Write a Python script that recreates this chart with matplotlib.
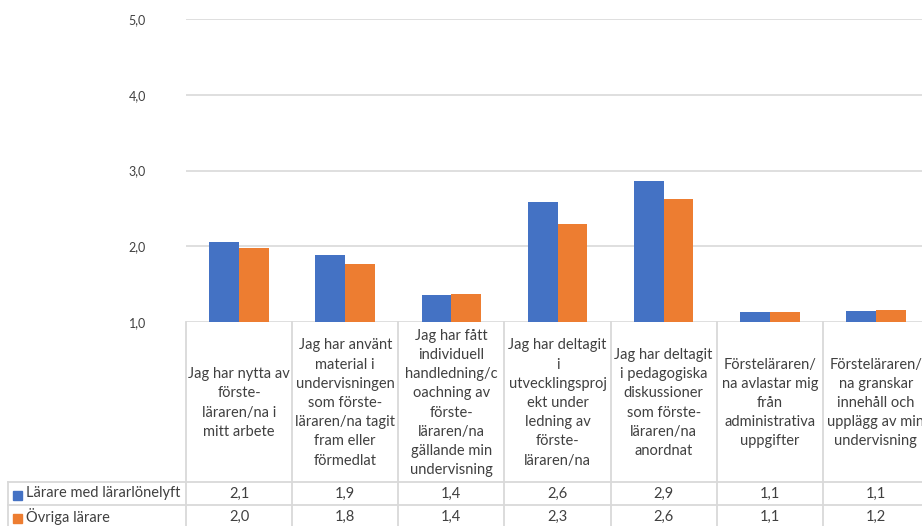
import numpy as np
import matplotlib.pyplot as plt
from matplotlib.ticker import FuncFormatter

plt.rcParams['font.family'] = ['Lato', 'DejaVu Sans']

# Survey statements (column headers of the data table)
categories = [
    "Jag har nytta av\nförste-\nläraren/na i\nmitt arbete",
    "Jag har använt\nmaterial i\nundervisningen\nsom förste-\nläraren/na tagit\nfram eller\nförmedlat",
    "Jag har fått\nindividuell\nhandledning/c\noachning av\nförste-\nläraren/na\ngällande min\nundervisning",
    "Jag har deltagit\ni\nutvecklingsproj\nekt under\nledning av\nförste-\nläraren/na",
    "Jag har deltagit\ni pedagogiska\ndiskussioner\nsom förste-\nläraren/na\nanordnat",
    "Försteläraren/\nna avlastar mig\nfrån\nadministrativa\nuppgifter",
    "Försteläraren/\nna granskar\ninnehåll och\nupplägg av min\nundervisning",
]
series_names = ["Lärare med lärarlönelyft", "Övriga lärare"]
lararlonelyft = [2.06, 1.88, 1.36, 2.58, 2.86, 1.13, 1.14]
ovriga = [1.98, 1.76, 1.37, 2.29, 2.62, 1.13, 1.16]
y_ticks = [1, 2, 3, 4, 5]

BLUE = "#4472C4"
ORANGE = "#ED7D31"
GRID = "#d9d9d9"
TEXT = "#404040"
FS = 10.5

W, H = 922, 526
fig = plt.figure(figsize=(W / 100, H / 100), dpi=100)

# plot area in pixel terms (runs off the right edge like the original sheet)
left, right, top, base = 186, 929, 19, 322
ax = fig.add_axes([left / W, (H - base) / H, (right - left) / W, (base - top) / H])

x = np.arange(len(categories))
bw = 0.28
ax.bar(x - bw / 2, lararlonelyft, bw, color=BLUE, zorder=3)
ax.bar(x + bw / 2, ovriga, bw, color=ORANGE, zorder=3)

ax.set_xlim(-0.5, len(categories) - 0.5)
ax.set_ylim(1, 5)
ax.set_yticks(y_ticks)
ax.yaxis.set_major_formatter(FuncFormatter(lambda v, p: f"{v:.1f}".replace(".", ",")))
ax.tick_params(axis="y", length=0, pad=29, labelsize=9, labelcolor=TEXT)
ax.set_xticks([])
ax.grid(axis="y", color=GRID, linewidth=1.2, zorder=0)
for s in ax.spines.values():
    s.set_visible(False)

# data table below the plot, drawn on an overlay in pixel coordinates
tab = fig.add_axes([0, 0, 1, 1], facecolor="none")
tab.set_xlim(0, W)
tab.set_ylim(H, 0)
tab.axis("off")

colw = (right - left) / len(categories)
head_bot, row1_bot = 482, 505
row_h = row1_bot - head_bot
lw = 1.3

# vertical column borders
for i in range(len(categories) + 1):
    xe = left + i * colw
    tab.plot([xe, xe], [base, H], color=GRID, lw=lw)
# horizontal borders of the value rows
for yy in [head_bot, row1_bot]:
    tab.plot([8, right], [yy, yy], color=GRID, lw=lw)
tab.plot([8, 8], [head_bot, H], color=GRID, lw=lw)

for i, cat in enumerate(categories):
    xc = left + (i + 0.5) * colw
    tab.text(xc, (base + head_bot) / 2 + 1, cat, ha="center", va="center",
             fontsize=FS, color=TEXT, linespacing=1.47)
    for r, vals in enumerate([lararlonelyft, ovriga]):
        yc = head_bot + (r + 0.5) * row_h
        tab.text(xc, yc, f"{vals[i]:.1f}".replace(".", ","), ha="center",
                 va="center", fontsize=FS, color=TEXT)

for r, (name, col) in enumerate(zip(series_names, [BLUE, ORANGE])):
    yc = head_bot + (r + 0.5) * row_h
    tab.add_patch(plt.Rectangle((13, yc - 3), 9, 9, color=col))
    tab.text(26, yc, name, ha="left", va="center", fontsize=FS, color=TEXT)

fig.savefig("out.png", dpi=100)
